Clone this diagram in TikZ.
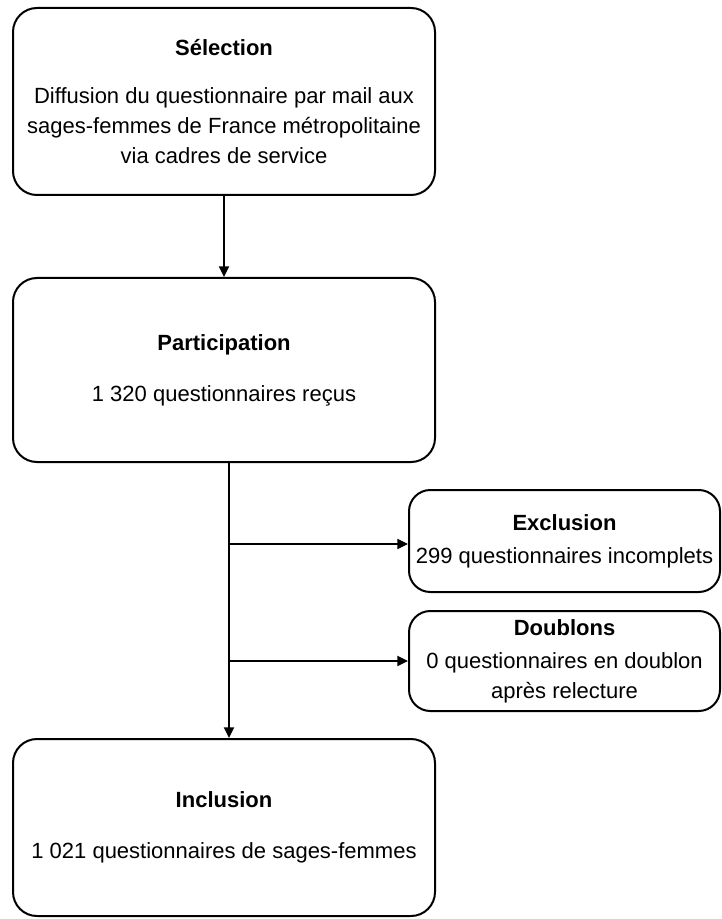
\documentclass[tikz,border=0pt]{standalone}
\usepackage{fontspec}
\setmainfont{Liberation Sans}
\usetikzlibrary{arrows.meta}
\tikzset{
  box/.style={draw, line width=1.5pt, rounded corners=18pt, align=center,
    font=\fontsize{16.5}{22.5}\selectfont, inner sep=0pt},
  mainbox/.style={box, minimum width=316.5pt},
  sidebox/.style={box, minimum width=233.25pt, minimum height=76.5pt, rounded corners=16pt},
}
\begin{document}
\begin{tikzpicture}[x=0.75pt, y=-0.75pt, >={Triangle[length=8pt,width=7.5pt]}]
  \useasboundingbox (0,0) rectangle (721,919);
  \draw
    (224,101.5) node[mainbox, minimum height=140.25pt] (selection){\textbf{Sélection}\\[14pt]Diffusion du questionnaire par mail aux\\sages-femmes de France métropolitaine\\via cadres de service}
    (224,370) node[mainbox, minimum height=138pt] (participation){\textbf{Participation}\\[15.75pt]1 320 questionnaires reçus}
    (224,827.5) node[mainbox, minimum height=132.75pt] (inclusion){\textbf{Inclusion}\\[15.75pt]1 021 questionnaires de sages-femmes}
    (564.5,541) node[sidebox, minimum height=76.5pt] (exclusion){\textbf{Exclusion}\\[2pt]299 questionnaires incomplets}
    (564.5,661) node[sidebox, minimum height=75pt] (doublons){\textbf{Doublons}\\[2pt]0 questionnaires en doublon\\après relecture};
  \coordinate (trunk) at ([xshift=3.75pt]participation.south);
  \begin{scope}[->, line width=1.5pt]
    \draw (selection) to (participation);
    \draw (trunk) to (trunk |- inclusion.north);
    \draw (trunk |- exclusion.west) ++(0,3) to ([yshift=-2.25pt]exclusion.west);
    \draw (trunk |- doublons.west) to (doublons.west);
  \end{scope}
\end{tikzpicture}
\end{document}
